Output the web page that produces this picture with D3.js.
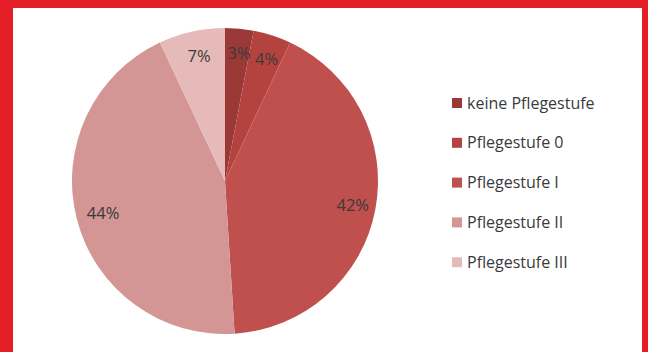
<!DOCTYPE html>
<html>
<head>
<meta charset="utf-8">
<script src="https://cdn.jsdelivr.net/npm/d3@7"></script>
<style>
  html, body { margin: 0; padding: 0; background: #fff; }
</style>
</head>
<body>
<div id="chart"></div>
<script>
const categories = ["keine Pflegestufe", "Pflegestufe 0", "Pflegestufe I", "Pflegestufe II", "Pflegestufe III"];
const values = [3, 4, 42, 44, 7];
const colors = ["#9a3936", "#b4433f", "#c0504d", "#d39695", "#e6bab9"];

const width = 648, height = 352;
const cx = 225, cy = 181, radius = 153;

const svg = d3.select("#chart").append("svg")
    .attr("width", width)
    .attr("height", height)
    .attr("style", "font-family: 'Open Sans', sans-serif;");

// red frame
svg.append("rect").attr("width", width).attr("height", height).attr("fill", "#e41e26");
svg.append("rect")
    .attr("x", 13).attr("y", 8)
    .attr("width", width - 13 - 6).attr("height", height - 8)
    .attr("fill", "#fff");

const pie = d3.pie().sort(null).value(d => d);
const arcs = pie(values);
const arc = d3.arc().innerRadius(0).outerRadius(radius);
const labelArc = d3.arc().innerRadius(128).outerRadius(128);

const g = svg.append("g").attr("transform", `translate(${cx},${cy})`);

g.selectAll("path")
    .data(arcs)
    .join("path")
    .attr("d", arc)
    .attr("fill", (d, i) => colors[i]);

g.selectAll("text")
    .data(arcs)
    .join("text")
    .attr("transform", d => {
        const c = labelArc.centroid(d);
        return `translate(${c[0] + 2},${c[1]})`;
    })
    .attr("text-anchor", "middle")
    .attr("dy", "0.35em")
    .attr("fill", "#3a3a3a")
    .attr("font-size", 16.5)
    .text(d => d.data + "%");

// legend
const legend = svg.append("g").attr("transform", "translate(452,103)");
const item = legend.selectAll("g")
    .data(categories)
    .join("g")
    .attr("transform", (d, i) => `translate(0,${i * 39.8})`);

item.append("rect")
    .attr("x", 0).attr("y", -5)
    .attr("width", 10).attr("height", 10)
    .attr("fill", (d, i) => colors[i]);

item.append("text")
    .attr("x", 15)
    .attr("dy", "0.35em")
    .attr("fill", "#3a3a3a")
    .attr("font-size", 16)
    .text(d => d);
</script>
</body>
</html>
